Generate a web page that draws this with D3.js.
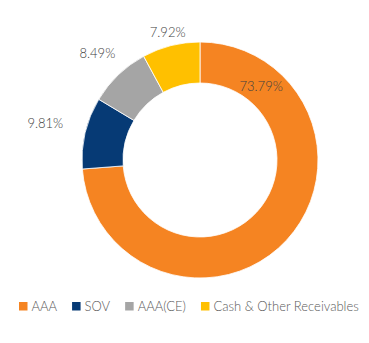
<!DOCTYPE html>
<html><head><meta charset="utf-8">
<script src="https://cdn.jsdelivr.net/npm/d3@7"></script>
<style>body{margin:0;background:#fff}svg{display:block}text{font-family:Lato,"Open Sans",sans-serif}</style>
</head><body>
<script>
const categories = ["AAA", "SOV", "AAA(CE)", "Cash & Other Receivables"];
const values = [73.79, 9.81, 8.49, 7.92];
const colors = ["#F58422", "#063A75", "#A5A5A5", "#FFC000"];

const W = 369, H = 343;
const cx = 200, cy = 160, outerR = 118, innerR = 77;
const svg = d3.select("body").append("svg").attr("width", W).attr("height", H);
const g = svg.append("g").attr("transform", `translate(${cx},${cy})`);

const pie = d3.pie().sort(null).value(d => d)(values);
const arc = d3.arc().innerRadius(innerR).outerRadius(outerR);
g.selectAll("path").data(pie).join("path")
  .attr("d", arc).attr("fill", (d, i) => colors[i])
  .attr("stroke", "#fff").attr("stroke-width", 0.8);

const fmt = v => v.toFixed(2) + "%";
pie.forEach((d, i) => {
  const span = d.endAngle - d.startAngle;
  let x, y;
  if (span > Math.PI) {
    const a = d.startAngle + span * 0.15;
    const r = (innerR + outerR) / 2 - 2;
    x = Math.sin(a) * r; y = -Math.cos(a) * r;
  } else {
    const a = (d.startAngle + d.endAngle) / 2;
    const r = outerR + 4 + 38 * Math.abs(Math.sin(a));
    x = Math.sin(a) * r; y = -Math.cos(a) * r;
  }
  g.append("text").attr("x", x).attr("y", y).attr("dy", "0.35em")
    .attr("text-anchor", "middle").attr("font-size", 13).attr("font-weight", 300)
    .attr("fill", "#404040").text(fmt(d.data));
});

// legend
const leg = svg.append("g").attr("transform", "translate(19,306)");
let lx = 0;
categories.forEach((c, i) => {
  leg.append("rect").attr("x", lx).attr("y", -4).attr("width", 8.5).attr("height", 8.5).attr("fill", colors[i]);
  const t = leg.append("text").attr("x", lx + 12.5).attr("y", 0).attr("dy", "0.35em")
    .attr("font-size", 13).attr("font-weight", 300).attr("fill", "#595959").text(c);
  lx += 12.5 + t.node().getComputedTextLength() + 15;
});
</script>
</body></html>
